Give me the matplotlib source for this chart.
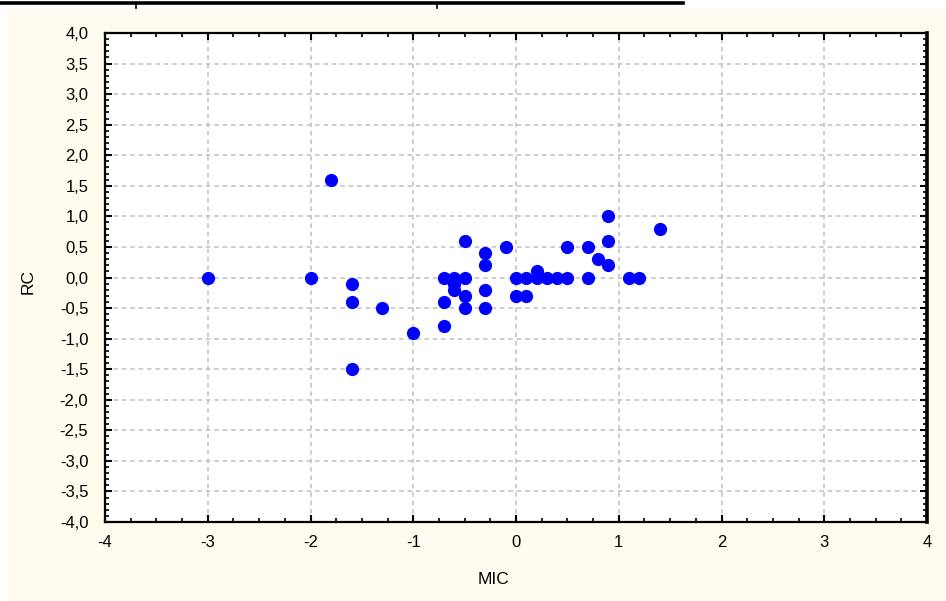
import matplotlib
matplotlib.use("Agg")
import matplotlib.pyplot as plt
import numpy as np
from matplotlib.ticker import MultipleLocator, FuncFormatter
from matplotlib.patches import Rectangle
from matplotlib.lines import Line2D

# MIC vs RC values
mic = [-3.0, -2.0, -1.8, -1.6, -1.6, -1.6, -1.3, -1.0,
       -0.7, -0.7, -0.7, -0.6, -0.6, -0.6,
       -0.5, -0.5, -0.5, -0.5,
       -0.3, -0.3, -0.3, -0.3, -0.1,
       0.0, 0.1, 0.0, 0.1, 0.2, 0.2, 0.3, 0.4, 0.5, 0.5,
       0.7, 0.7, 0.8, 0.9, 0.9, 0.9, 1.1, 1.2, 1.4]
rc = [0.0, 0.0, 1.6, -0.1, -0.4, -1.5, -0.5, -0.9,
      0.0, -0.4, -0.8, 0.0, -0.1, -0.2,
      0.6, 0.0, -0.3, -0.5,
      0.4, 0.2, -0.2, -0.5, 0.5,
      0.0, 0.0, -0.3, -0.3, 0.1, 0.0, 0.0, 0.0, 0.0, 0.5,
      0.5, 0.0, 0.3, 1.0, 0.6, 0.2, 0.0, 0.0, 0.8]

W, H = 946, 601
fig = plt.figure(figsize=(W / 100, H / 100), dpi=100)
fig.patch.set_facecolor("white")
plt.rcParams['font.family'] = ['Liberation Sans', 'DejaVu Sans']

# cream panel behind the chart
fig.add_artist(Rectangle((8 / W, 0), 1, 1 - 9 / H, transform=fig.transFigure,
                         facecolor="#fffcef", edgecolor="none", zorder=0))
# rule left over at the top edge
fig.add_artist(Line2D([0, 683 / W], [1 - 2.5 / H, 1 - 2.5 / H], transform=fig.transFigure,
                      color="black", lw=2.6))
for xp in (136, 437):
    fig.add_artist(Line2D([xp / W, xp / W], [1 - 4 / H, 1 - 8 / H], transform=fig.transFigure,
                          color="black", lw=1.2))

ax = fig.add_axes([105 / W, 1 - 522 / H, (927 - 105) / W, (522 - 33) / H])
ax.set_facecolor("white")
ax.plot(mic, rc, 'o', color="#0000ff", ms=8.5, mec="#0000ff", zorder=3, clip_on=False)

ax.set_xlim(-4, 4)
ax.set_ylim(-4, 4)
ax.xaxis.set_major_locator(MultipleLocator(1))
ax.xaxis.set_minor_locator(MultipleLocator(0.25))
ax.yaxis.set_major_locator(MultipleLocator(0.5))
ax.yaxis.set_minor_locator(MultipleLocator(0.1))
ax.yaxis.set_major_formatter(FuncFormatter(lambda v, p: ("%.1f" % v).replace(".", ",")))
ax.xaxis.set_major_formatter(FuncFormatter(lambda v, p: "%d" % round(v)))

ax.grid(True, which="major", color="#c0c0c0", linestyle=(0, (3, 2.5)), linewidth=1.1)
ax.set_axisbelow(True)

ax.tick_params(which="both", direction="in", top=True, right=True, colors="black",
               labelsize=12)
ax.tick_params(which="major", length=5, width=1.5)
ax.tick_params(which="minor", length=3, width=1.2)
ax.tick_params(axis="x", pad=9.5)
ax.tick_params(axis="y", pad=12)

for s in ax.spines.values():
    s.set_linewidth(1.6)
    s.set_color("black")
ax.spines["right"].set_linewidth(2.6)

ax.set_xlabel("MIC", fontsize=12.5)
ax.set_ylabel("RC", fontsize=12.5)
ax.xaxis.set_label_coords(0.473, -0.102)
ax.yaxis.set_label_coords(-0.085, 0.491)

fig.savefig("out.png", dpi=100, facecolor=fig.get_facecolor())
